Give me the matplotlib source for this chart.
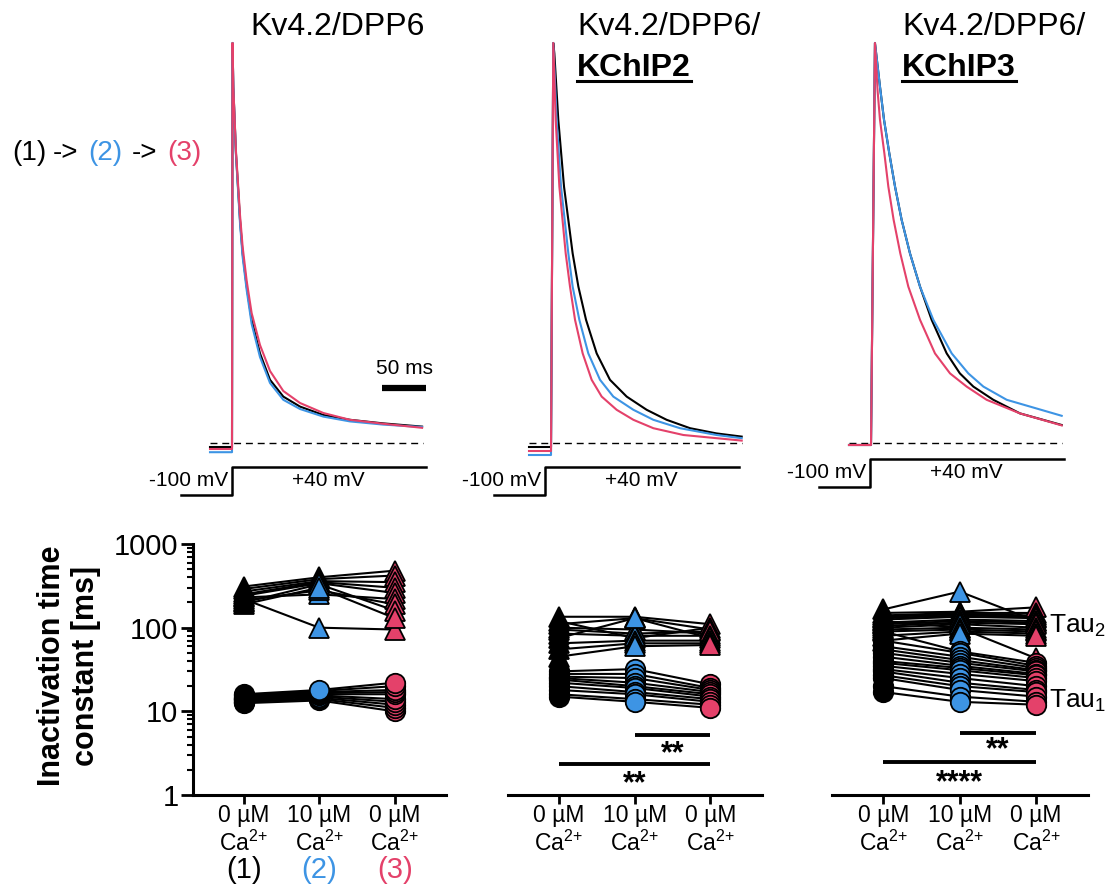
import matplotlib
matplotlib.use('Agg')
import matplotlib.pyplot as plt
import numpy as np

plt.rcParams['font.family'] = ['Liberation Sans', 'DejaVu Sans']
plt.rcParams['mathtext.fontset'] = 'custom'
plt.rcParams['mathtext.rm'] = 'Liberation Sans'
plt.rcParams['mathtext.it'] = 'Liberation Sans:italic'
plt.rcParams['mathtext.bf'] = 'Liberation Sans:bold'

BLUE = '#3d94e4'
RED = '#e4416a'
colors = ['black', BLUE, RED]

# ---- current traces (time in ms, current normalised to peak) ----
# Kv4.2/DPP6
p1_t = [-25, 0, 0.6, 1.5, 4.5, 9.1, 12.1, 16.7, 22.3, 31.8, 43.2, 58.3, 77.3, 103.8, 134, 172, 216]
p1_i_black = [-0.01, -0.01, 1.0, 0.89, 0.724, 0.558, 0.474, 0.391, 0.308, 0.224, 0.158, 0.116,
              0.091, 0.07, 0.058, 0.049, 0.041]
p1_i_blue = [-0.023, -0.023, 1.0, 0.89, 0.72, 0.55, 0.465, 0.382, 0.298, 0.215, 0.15, 0.108,
             0.085, 0.066, 0.054, 0.046, 0.04]
p1_i_red = [-0.015, -0.015, 1.0, 0.89, 0.73, 0.57, 0.49, 0.405, 0.325, 0.245, 0.18, 0.13,
            0.1, 0.075, 0.058, 0.048, 0.038]
# Kv4.2/DPP6/KChIP2
p2_t_black = [-25, 0, 2.6, 3.8, 8.3, 14.8, 24.6, 31.1, 39.8, 51.9, 67, 86, 108.7, 131.4, 158, 188, 216.7]
p2_i_black = [-0.01, -0.01, 1.0, 0.974, 0.808, 0.641, 0.474, 0.391, 0.308, 0.224, 0.158, 0.116,
              0.083, 0.058, 0.037, 0.024, 0.016]
p2_t_blue = [-25, 0, 2.6, 6.4, 11.4, 19.7, 24.6, 32.2, 42.4, 55.7, 70.8, 93.6, 116.3, 146.6, 188.3, 216.7]
p2_i_blue = [-0.03, -0.03, 1.0, 0.808, 0.641, 0.474, 0.391, 0.308, 0.224, 0.158, 0.116, 0.083,
             0.058, 0.037, 0.02, 0.012]
p2_t_red = [-25, 0, 2.6, 5.3, 9.5, 16.7, 21.6, 27.3, 36, 46.2, 57.6, 74.6, 93.6, 116.3, 150.4, 216.7]
p2_i_red = [-0.02, -0.02, 1.0, 0.808, 0.641, 0.474, 0.391, 0.308, 0.224, 0.158, 0.116, 0.083,
            0.058, 0.037, 0.02, 0.006]
# Kv4.2/DPP6/KChIP3
p3_t_black = [-25, 0, 4.5, 10.2, 14.8, 20.8, 27.3, 34.8, 44.3, 55.7, 68.9, 86, 101, 116.3,
              139, 169.3, 216.7]
p3_i_black = [-0.005, -0.005, 1.0, 0.891, 0.808, 0.724, 0.641, 0.558, 0.474, 0.391, 0.308,
              0.224, 0.174, 0.141, 0.108, 0.074, 0.045]
p3_t_blue = [-25, 0, 4.5, 10.2, 14.8, 20.8, 27.3, 34.8, 44.3, 55.7, 70.8, 91.7, 110.6, 127.7,
             154.2, 216.7]
p3_i_blue = [-0.005, -0.005, 1.0, 0.891, 0.808, 0.724, 0.641, 0.558, 0.474, 0.391, 0.308,
             0.224, 0.174, 0.141, 0.108, 0.068]
p3_t_red = [-25, 0, 4.5, 7.5, 10.2, 15.2, 19.7, 25.7, 33.3, 42.4, 55.7, 72.7, 89.8, 108.7,
            131.4, 169.3, 216.7]
p3_i_red = [-0.005, -0.005, 1.0, 0.88, 0.808, 0.724, 0.641, 0.558, 0.474, 0.391, 0.308, 0.224,
            0.174, 0.141, 0.108, 0.074, 0.044]

trace_t = [[p1_t, p1_t, p1_t],
           [p2_t_black, p2_t_blue, p2_t_red],
           [p3_t_black, p3_t_blue, p3_t_red]]
trace_i = [[p1_i_black, p1_i_blue, p1_i_red],
           [p2_i_black, p2_i_blue, p2_i_red],
           [p3_i_black, p3_i_blue, p3_i_red]]

# voltage protocol
prot_t = [-58, 0, 0, 220]
prot_v = [-100, -100, 40, 40]

# ---- inactivation time constants [ms], one entry per cell ----
cond_labels = ['0 µM\nCa$^{2{+}}$', '10 µM\nCa$^{2{+}}$', '0 µM\nCa$^{2{+}}$']
a_tau2_c1 = [310, 290, 270, 250, 240, 230, 220, 210, 200, 190]
a_tau2_c2 = [400, 380, 360, 350, 340, 250, 100, 280, 330, 300]
a_tau2_c3 = [480, 420, 350, 300, 260, 220, 95, 190, 160, 130]
a_tau1_c1 = [12.5, 13, 13, 13.5, 14, 14, 14.5, 15, 15.5, 16]
a_tau1_c2 = [13.5, 14, 14.5, 15, 15.5, 16, 16.5, 17, 17.5, 18]
a_tau1_c3 = [10, 11, 12, 13, 14, 16, 17, 18, 20, 22]

b_tau2_c1 = [135, 120, 110, 100, 95, 85, 75, 65, 55, 45]
b_tau2_c2 = [135, 75, 130, 95, 85, 80, 130, 70, 65, 60]
b_tau2_c3 = [110, 100, 95, 85, 90, 80, 75, 70, 65, 62]
b_tau1_c1 = [30, 28, 26, 25, 24, 22, 20, 18, 16, 15]
b_tau1_c2 = [32, 28, 25, 22, 20, 19, 17, 16, 14, 13]
b_tau1_c3 = [21, 19, 18, 17, 16, 15, 14, 13, 12, 11]

c_tau2_c1 = [165, 150, 140, 135, 130, 125, 120, 115, 110, 105, 100, 95, 90, 80, 70]
c_tau2_c2 = [270, 155, 150, 145, 140, 135, 100, 125, 120, 115, 110, 100, 95, 90, 85]
c_tau2_c3 = [120, 175, 150, 140, 135, 130, 43, 120, 115, 110, 100, 95, 90, 85, 80]
c_tau1_c1 = [90, 70, 60, 55, 50, 45, 40, 38, 35, 32, 30, 27, 25, 20, 17]
c_tau1_c2 = [52, 50, 45, 41, 38, 35, 33, 31, 28, 25, 22, 20, 18, 15, 13]
c_tau1_c3 = [38, 35, 33, 31, 30, 28, 27, 25, 23, 20, 18, 17, 15, 13, 12]

tau2 = [[a_tau2_c1, a_tau2_c2, a_tau2_c3],
        [b_tau2_c1, b_tau2_c2, b_tau2_c3],
        [c_tau2_c1, c_tau2_c2, c_tau2_c3]]
tau1 = [[a_tau1_c1, a_tau1_c2, a_tau1_c3],
        [b_tau1_c1, b_tau1_c2, b_tau1_c3],
        [c_tau1_c1, c_tau1_c2, c_tau1_c3]]

# significance brackets: (x0, x1, bar level, star level, stars)
sig_b = [(1, 2, 5.24, 3.11, '**'), (0, 2, 2.36, 1.36, '**')]
sig_c = [(1, 2, 5.5, 3.38, '**'), (0, 2, 2.45, 1.40, '****')]
sigs = [[], sig_b, sig_c]

W, H = 1110, 886
fig = plt.figure(figsize=(W / 100, H / 100), dpi=100)


def px_axes(x0, y0, x1, y1):
    return fig.add_axes([x0 / W, 1 - y1 / H, (x1 - x0) / W, (y1 - y0) / H])


ov = px_axes(0, 0, W, H)
ov.set_xlim(0, W)
ov.set_ylim(H, 0)
ov.axis('off')

PX_MS = 0.88
step_x = [232, 551, 871]
vstep_x = [232, 545, 870]
vlow_y = [495, 495, 487]
vhigh_y = [467, 467, 459]

for i in range(3):
    sx = step_x[i]
    ax = px_axes(sx - 60, 23, sx + 205, 523)
    ax.set_xlim(-60 / PX_MS, 205 / PX_MS)
    ax.set_ylim(-0.2, 1.05)
    ax.axis('off')
    ax.plot([-25, 217], [0, 0], color='k', lw=1, dashes=(5, 3.5))
    for t, cur, c in zip(trace_t[i], trace_i[i], colors):
        ax.plot(t, cur, color=c, lw=1.5, solid_joinstyle='round')
    if i == 0:
        ax.plot([171, 221], [0.1375, 0.1375], color='k', lw=4.5, solid_capstyle='butt')
        ax.text(196, 0.185, '50 ms', ha='center', va='center', fontsize=15)

    vx = vstep_x[i]
    vax = px_axes(vx - 70, vhigh_y[i] - 4, vx + 200, vlow_y[i] + 6)
    vax.set_xlim(-70 / PX_MS, 200 / PX_MS)
    vax.set_ylim(-130, 60)
    vax.axis('off')
    vax.plot(prot_t, prot_v, color='k', lw=1.8)
    vax.text(-4, -30, '-100 mV', ha='right', va='center', fontsize=15)
    vax.text(110, -30, '+40 mV', ha='center', va='center', fontsize=15)

# titles
ov.text(250, 35, 'Kv4.2/DPP6', fontsize=23, va='baseline')
ov.text(577, 35, 'Kv4.2/DPP6/', fontsize=23, va='baseline')
t2 = ov.text(577, 76, 'KChIP2', fontsize=23, va='baseline', fontweight='bold')
ov.text(902, 35, 'Kv4.2/DPP6/', fontsize=23, va='baseline')
t3 = ov.text(902, 76, 'KChIP3', fontsize=23, va='baseline', fontweight='bold')

# sequence label
for x, s, c in [(12, '(1)', 'black'), (53, '->', 'black'), (88, '(2)', BLUE),
                (132, '->', 'black'), (167, '(3)', RED)]:
    ov.text(x, 160, s, fontsize=20, color=c, va='baseline')

ov.text(69, 666, 'Inactivation time\nconstant [ms]', rotation=90, ha='center', va='center',
        fontsize=22, fontweight='bold', linespacing=1.15)

sc_x = [(193, 446), (508, 762), (832, 1088)]
for i in range(3):
    ax = px_axes(sc_x[i][0], 544, sc_x[i][1], 795)
    ax.set_yscale('log')
    ax.set_ylim(1, 1000)
    ax.set_xlim(-0.67, 2.68)
    for tau in (tau2[i], tau1[i]):
        for j in range(len(tau[0])):
            ax.plot([0, 1, 2], [tau[0][j], tau[1][j], tau[2][j]], color='k', lw=1.5, zorder=2)
    for k in range(3):
        n = len(tau2[i][k])
        ax.plot([k] * n, tau2[i][k], ls='none', marker='^', ms=14, mfc=colors[k],
                mec='k', mew=1.3, zorder=3, clip_on=False)
        ax.plot([k] * n, tau1[i][k], ls='none', marker='o', ms=14, mfc=colors[k],
                mec='k', mew=1.3, zorder=3, clip_on=False)
    for x0, x1, lev, star_lev, stars in sigs[i]:
        ax.plot([x0, x1], [lev, lev], color='k', lw=2.8, solid_capstyle='butt')
        ax.text((x0 + x1) / 2, star_lev, stars, ha='center', va='center',
                fontsize=22, fontweight='bold')
    for s in ['top', 'right']:
        ax.spines[s].set_visible(False)
    ax.spines['bottom'].set_linewidth(2.2)
    ax.spines['left'].set_linewidth(2.2)
    ax.set_xticks([0, 1, 2], labels=cond_labels)
    ax.tick_params(axis='x', length=6.5, width=2, labelsize=16.5, pad=0)
    if i == 0:
        ax.set_yticks([1, 10, 100, 1000], labels=['1', '10', '100', '1000'])
        ax.yaxis.set_minor_formatter(matplotlib.ticker.NullFormatter())
        ax.tick_params(axis='y', which='major', length=8.5, width=2, labelsize=21, pad=2)
        ax.tick_params(axis='y', which='minor', length=4.5, width=1.5)
        for k, lab in enumerate(['(1)', '(2)', '(3)']):
            ax.text(k, -0.30, lab, transform=ax.get_xaxis_transform(), ha='center',
                    va='center', fontsize=21, color=colors[k])
    else:
        ax.spines['left'].set_visible(False)
        ax.tick_params(axis='y', which='both', left=False, labelleft=False)
    if i == 2:
        ax.text(2.17, 86, 'Tau$_2$', fontsize=19, va='baseline', ha='left')
        ax.text(2.17, 11, 'Tau$_1$', fontsize=19, va='baseline', ha='left')

# underline the KChIP titles
fig.canvas.draw()
for t in (t2, t3):
    bb = t.get_window_extent()
    ov.plot([bb.x0, bb.x1], [81, 81], color='k', lw=2.2)

fig.savefig('out.png', dpi=100)
